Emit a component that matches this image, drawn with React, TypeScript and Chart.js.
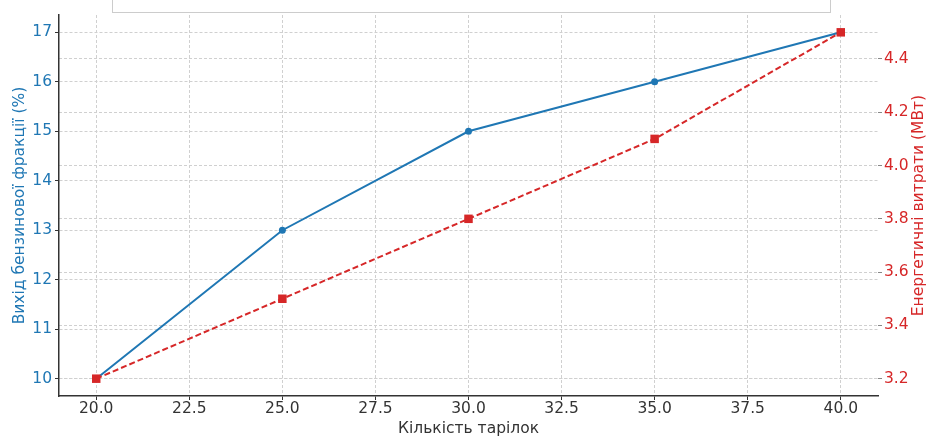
import { useEffect, useRef } from 'react';
import { Chart, registerables } from 'chart.js';

Chart.register(...registerables);

const plates = [20, 25, 30, 35, 40];
const gasolineYield = [10, 13, 15, 16, 17];
const energyUse = [3.2, 3.5, 3.8, 4.1, 4.5];
const xTickValues = [20, 22.5, 25, 27.5, 30, 32.5, 35, 37.5, 40];
const leftTickValues = [10, 11, 12, 13, 14, 15, 16, 17];
const rightTickValues = [3.2, 3.4, 3.6, 3.8, 4.0, 4.2, 4.4];
const xTitle = 'Кількість тарілок';
const leftTitle = 'Вихід бензинової фракції (%)';
const rightTitle = 'Енергетичні витрати (МВт)';
const seriesNames = ['Вихід бензинової фракції', 'Енергетичні витрати'];

const BLUE = '#1f77b4';
const RED = '#d62728';
const GRID = '#d0d0d0';
const FONT = 'DejaVu Sans';
const FS = 15.5;

const extras = {
  id: 'extras',
  afterDraw(chart: any) {
    const ctx = chart.ctx;
    ctx.save();
    ctx.strokeStyle = '#cccccc';
    ctx.lineWidth = 1;
    ctx.strokeRect(112.5, -20.5, 718, 33);
    const area = chart.chartArea;
    const s = chart.scales.y2;
    ctx.translate(s.right - 7.5, (area.top + area.bottom) / 2);
    ctx.rotate(-Math.PI / 2);
    ctx.fillStyle = RED;
    ctx.font = `${FS}px "${FONT}"`;
    ctx.textAlign = 'center';
    ctx.textBaseline = 'middle';
    ctx.fillText(rightTitle, 0, 0);
    ctx.restore();
  },
};

export default function App() {
  const ref = useRef<HTMLCanvasElement | null>(null);

  useEffect(() => {
    document.body.style.margin = '0';
    const canvas = ref.current;
    if (!canvas) return;
    const chart = new Chart(canvas, {
      type: 'line',
      data: {
        datasets: [
          {
            label: seriesNames[1],
            data: plates.map((x, i) => ({ x, y: energyUse[i] })),
            yAxisID: 'y2',
            borderColor: RED,
            backgroundColor: RED,
            borderWidth: 2,
            borderDash: [6, 3],
            pointStyle: 'rect',
            pointRadius: 6,
            pointBorderWidth: 0,
            tension: 0,
            order: 0,
          },
          {
            label: seriesNames[0],
            data: plates.map((x, i) => ({ x, y: gasolineYield[i] })),
            yAxisID: 'y',
            borderColor: BLUE,
            backgroundColor: BLUE,
            borderWidth: 2,
            pointStyle: 'circle',
            pointRadius: 3.5,
            pointBorderWidth: 0,
            tension: 0,
            order: 1,
          },
        ],
      },
      options: {
        animation: false,
        responsive: false,
        devicePixelRatio: 1,
        layout: { padding: { top: 15, left: 0, right: 0, bottom: 0 } },
        plugins: {
          legend: { display: false },
          tooltip: { enabled: false },
        },
        scales: {
          x: {
            type: 'linear',
            min: 19,
            max: 41,
            afterBuildTicks: (s: any) => {
              s.ticks = xTickValues.map((v) => ({ value: v }));
            },
            afterFit: (s: any) => {
              s.height = 42;
            },
            ticks: {
              color: '#333333',
              font: { family: FONT, size: FS },
              padding: 0,
              maxRotation: 0,
              autoSkip: false,
              callback: (v: any) => Number(v).toFixed(1),
            },
            grid: {
              color: GRID,
              lineWidth: 1,
              drawTicks: true,
              tickLength: 4,
              tickColor: '#333333',
            },
            border: { display: true, color: '#333333', width: 1.5, dash: [3, 2] },
            title: {
              display: true,
              text: xTitle,
              color: '#333333',
              font: { family: FONT, size: FS },
              padding: { top: 0.7, bottom: 0 },
            },
          },
          y: {
            type: 'linear',
            position: 'left',
            min: 9.65,
            max: 17.35,
            afterBuildTicks: (s: any) => {
              s.ticks = leftTickValues.map((v) => ({ value: v }));
            },
            afterFit: (s: any) => {
              s.width = 59;
            },
            ticks: {
              color: BLUE,
              font: { family: FONT, size: FS },
              padding: 3,
              callback: (v: any) => String(Math.round(Number(v))),
            },
            grid: {
              color: GRID,
              lineWidth: 1,
              drawTicks: true,
              tickLength: 4,
              tickColor: '#333333',
            },
            border: { display: true, color: '#333333', width: 1.5, dash: [3, 2] },
            title: {
              display: true,
              text: leftTitle,
              color: BLUE,
              font: { family: FONT, size: FS },
              padding: { top: 10.7, bottom: 0 },
            },
          },
          y2: {
            type: 'linear',
            position: 'right',
            min: 3.135,
            max: 4.565,
            afterBuildTicks: (s: any) => {
              s.ticks = rightTickValues.map((v) => ({ value: v }));
            },
            afterFit: (s: any) => {
              s.width = 48;
            },
            ticks: {
              color: RED,
              font: { family: FONT, size: FS },
              padding: 2,
              callback: (v: any) => Number(v).toFixed(1),
            },
            grid: {
              color: GRID,
              lineWidth: 1,
              drawTicks: true,
              tickLength: 4,
              tickColor: '#888888',
            },
            border: { display: false, dash: [3, 2] },
            title: { display: false },
          },
        },
      },
      plugins: [extras],
    });
    return () => chart.destroy();
  }, []);

  return (
    <div style={{ width: 926, height: 438 }}>
      <canvas ref={ref} width={926} height={438} />
    </div>
  );
}
